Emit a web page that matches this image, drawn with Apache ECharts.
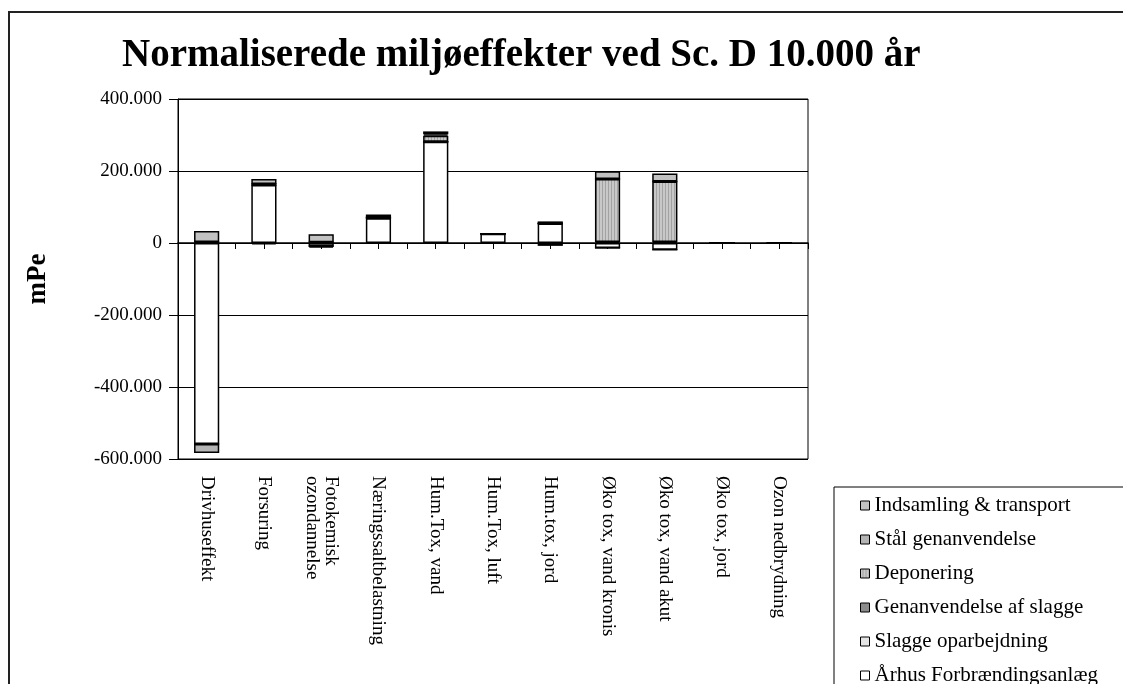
<!DOCTYPE html>
<html>
<head>
<meta charset="utf-8">
<script src="https://cdn.jsdelivr.net/npm/echarts@6/dist/echarts.min.js"></script>
<style>
  html, body { margin: 0; padding: 0; background: #fff; }
  #chart { width: 1123px; height: 684px; }
</style>
</head>
<body>
<div id="chart"></div>
<script>
var categories = ['Drivhuseffekt', 'Forsuring', 'Fotokemisk\nozondannelse', 'Næringssaltbelastning',
  'Hum.Tox, vand', 'Hum.Tox, luft', 'Hum.tox, jord', 'Øko tox, vand kronis',
  'Øko tox, vand akut', 'Øko tox, jord', 'Ozon nedbrydning'];

// stacked from the bottom up
var aarhus      = [-558000, 161000, -9000, 69000, 281000, 26000, 54000, -14000, -19000, 0, 0];
var slaggeOpar  = [0, 0, 0, 0, 0, 0, 0, 0, 0, 0, 0];
var genanvSlagge = [3000, 3000, 2000, 1500, 0, 0, 0, 3000, 3000, 0, 0];
var deponering  = [0, 0, 0, 0, 17000, 0, 0, 175000, 168000, 0, 0];
var staal       = [-25000, -4000, -4000, 0, 4000, 0, -8000, 0, 0, 0, 0];
var indsamling  = [30000, 14000, 22000, 9000, 8000, 0, 6000, 21000, 22000, 0, 0];

var legendOrder = ['Indsamling & transport', 'Stål genanvendelse', 'Deponering',
  'Genanvendelse af slagge', 'Slagge oparbejdning', 'Århus Forbrændingsanlæg'];

var serif = 'Liberation Serif';

function hatch() {
  var c = document.createElement('canvas');
  c.width = 3; c.height = 4;
  var g = c.getContext('2d');
  g.fillStyle = '#c8c8c8'; g.fillRect(0, 0, 3, 4);
  g.fillStyle = '#a2a2a2'; g.fillRect(2, 0, 1, 4);
  return c;
}

function fmt(v) {
  if (v === 0) return '0';
  return (v < 0 ? '-' : '') + (Math.abs(v) / 1000) + '.000';
}

function bar(name, data, color) {
  return {
    name: name,
    type: 'bar',
    stack: 'total',
    barWidth: '44%',
    data: data,
    itemStyle: { color: color, borderColor: '#000', borderWidth: 1.5 }
  };
}

var myChart = echarts.init(document.getElementById('chart'));
var option = {
  animation: false,
  backgroundColor: '#fff',
  title: {
    text: 'Normaliserede miljøeffekter ved Sc. D 10.000 år',
    left: 117,
    top: 31,
    textStyle: { fontFamily: serif, fontSize: 39, fontWeight: 'bold', color: '#000' }
  },
  graphic: [
    { type: 'rect', z: -10, shape: { x: 9, y: 12, width: 1300, height: 900 },
      style: { fill: 'none', stroke: '#222', lineWidth: 2 } },
    { type: 'rect', z: -5, shape: { x: 834, y: 487, width: 400, height: 300 },
      style: { fill: '#fff', stroke: '#000', lineWidth: 1 } }
  ],
  legend: {
    data: legendOrder,
    orient: 'vertical',
    left: 855,
    top: 490,
    height: 300,
    itemWidth: 9,
    itemHeight: 9,
    itemGap: 13,
    icon: 'rect',
    itemStyle: { borderWidth: 1, borderColor: '#000' },
    textStyle: { fontFamily: serif, fontSize: 21, lineHeight: 20.6, color: '#000' }
  },
  grid: {
    left: 178, right: 315, top: 99, bottom: 225,
    show: true, borderColor: '#000', borderWidth: 1
  },
  xAxis: [
    {
      type: 'category',
      data: categories,
      position: 'bottom',
      axisLine: { show: false, onZero: false },
      axisTick: { show: false },
      axisLabel: {
        rotate: -90, interval: 0, margin: 17,
        fontFamily: serif, fontSize: 19, color: '#000'
      }
    },
    {
      type: 'category',
      data: categories,
      position: 'bottom',
      axisLine: { show: true, onZero: true, onZeroAxisIndex: 0, lineStyle: { color: '#000', width: 1.5 } },
      axisTick: { show: true, interval: 0, length: 6, lineStyle: { color: '#000', width: 1 } },
      axisLabel: { show: false, interval: 0 }
    },
    {
      type: 'category',
      data: categories,
      position: 'bottom',
      axisLine: { show: false, onZero: true, onZeroAxisIndex: 1 },
      axisTick: { show: true, interval: 0, alignWithLabel: true, length: 6, lineStyle: { color: '#000', width: 1 } },
      axisLabel: { show: false, interval: 0 }
    }
  ],
  yAxis: [
    {
      type: 'value',
      min: -600000,
      max: 400000,
      interval: 200000,
      name: 'mPe',
      nameLocation: 'middle',
      nameRotate: 90,
      nameGap: 126,
      nameTextStyle: { fontFamily: serif, fontSize: 27, fontWeight: 'bold', color: '#000' },
      axisLine: { show: true, lineStyle: { color: '#000', width: 1 } },
      axisTick: { show: true, length: 9, lineStyle: { color: '#000' } },
      axisLabel: { margin: 16, fontFamily: serif, fontSize: 19, color: '#000', formatter: fmt },
      splitLine: { show: true, lineStyle: { color: '#000', width: 1 } }
    },
    {
      type: 'value',
      min: -600000,
      max: 400000,
      interval: 200000,
      axisLine: { show: false },
      axisTick: { show: false },
      axisLabel: { show: false },
      splitLine: { show: false }
    }
  ],
  series: [
    bar('Århus Forbrændingsanlæg', aarhus, '#ffffff'),
    bar('Slagge oparbejdning', slaggeOpar, '#e4e4e4'),
    bar('Genanvendelse af slagge', genanvSlagge, '#8c8c8c'),
    bar('Deponering', deponering, { image: hatch(), repeat: 'repeat' }),
    bar('Stål genanvendelse', staal, '#b4b4b4'),
    bar('Indsamling & transport', indsamling, '#c2c2c2')
  ]
};
myChart.setOption(option);
</script>
</body>
</html>
